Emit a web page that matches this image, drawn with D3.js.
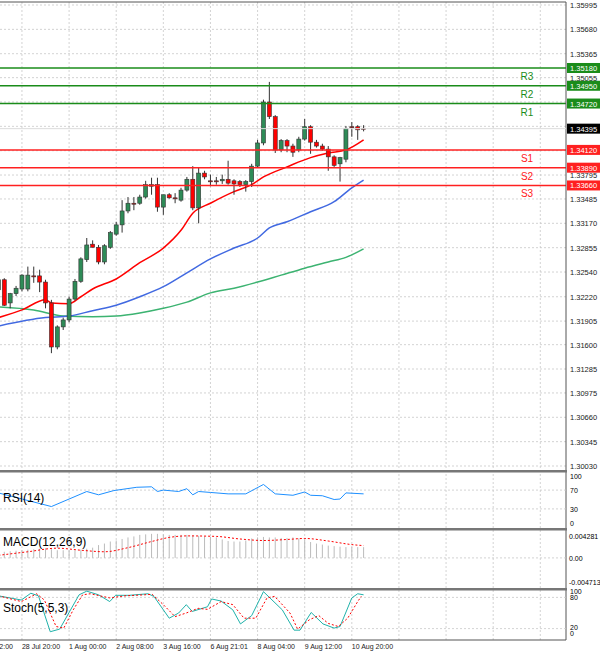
<!DOCTYPE html>
<html><head><meta charset="utf-8">
<script src="https://cdn.jsdelivr.net/npm/d3@7"></script>
<style>body{margin:0;background:#fff}text{font-family:"Liberation Sans",Arial,sans-serif}</style>
</head><body>
<script>
// OHLC, one row per candle [open, high, low, close]
var candles = [
 [1.3231,1.3248,1.3227,1.3244],[1.3244,1.3246,1.3210,1.3211],[1.3214,1.3227,1.3207,1.3226],[1.3226,1.3236,1.3223,1.3233],
 [1.3232,1.3251,1.3229,1.3250],[1.3232,1.3261,1.3229,1.3250],[1.3249,1.3261,1.3240,1.3248],[1.3249,1.3257,1.3228,1.3241],
 [1.3241,1.3244,1.3207,1.3214],[1.3214,1.3218,1.3149,1.3157],[1.3157,1.3185,1.3154,1.3183],[1.3183,1.3195,1.3179,1.3192],
 [1.3192,1.3222,1.3189,1.3219],[1.3219,1.3245,1.3217,1.3242],[1.3242,1.3273,1.3240,1.3271],[1.3270,1.3298,1.3267,1.3289],
 [1.3290,1.3295,1.3286,1.3286],[1.3286,1.3289,1.3264,1.3267],[1.3267,1.3290,1.3264,1.3288],[1.3286,1.3307,1.3284,1.3305],
 [1.3303,1.3319,1.3301,1.3315],[1.3315,1.3347,1.3305,1.3333],[1.3333,1.3351,1.3330,1.3343],[1.3343,1.3351,1.3334,1.3342],
 [1.3343,1.3354,1.3341,1.3351],[1.3351,1.3372,1.3349,1.3367],[1.3367,1.3376,1.3354,1.3365],[1.3367,1.3376,1.3332,1.3338],
 [1.3338,1.3341,1.3328,1.3354],[1.3354,1.3356,1.3349,1.3350],[1.3350,1.3356,1.3343,1.3349],[1.3347,1.3363,1.3345,1.3360],
 [1.3360,1.3377,1.3358,1.3374],[1.3374,1.3391,1.3334,1.3337],[1.3337,1.3389,1.3317,1.3382],[1.3382,1.3385,1.3374,1.3377],
 [1.3372,1.3380,1.3365,1.3371],[1.3372,1.3377,1.3367,1.3371],[1.3372,1.3380,1.3368,1.3374],[1.3374,1.3398,1.3367,1.3369],
 [1.3372,1.3374,1.3354,1.3368],[1.3371,1.3373,1.3364,1.3367],[1.3367,1.3373,1.3358,1.3371],[1.3371,1.3394,1.3364,1.3391],
 [1.3391,1.3425,1.3389,1.3421],[1.3421,1.3477,1.3418,1.3474],[1.3474,1.3500,1.3452,1.3455],[1.3455,1.3457,1.3408,1.3412],
 [1.3412,1.3426,1.3409,1.3424],[1.3424,1.3426,1.3409,1.3417],[1.3417,1.3420,1.3403,1.3409],[1.3412,1.3429,1.3409,1.3426],
 [1.3426,1.3452,1.3424,1.3442],[1.3442,1.3444,1.3407,1.3422],[1.3422,1.3425,1.3415,1.3417],[1.3417,1.3420,1.3411,1.3413],
 [1.3413,1.3417,1.3385,1.3403],[1.3403,1.3405,1.3390,1.3392],[1.3394,1.3403,1.3371,1.3402],[1.3400,1.3443,1.3396,1.3440],
 [1.3442,1.3448,1.3429,1.3441],[1.3442,1.3444,1.3425,1.3438],[1.3440,1.3444,1.3436,1.34395]
];
// moving averages [candle index, price]
var maFast = [[0,1.3195],[4,1.3205],[8,1.3218],[9,1.3214],[12,1.3213],[14,1.3222],[16,1.3232],[20,1.3245],[24,1.3266],[28,1.3285],[31,1.3308],[33,1.3330],[36,1.3343],[40,1.3358],[43,1.3367],[45,1.3377],[49,1.3390],[53,1.3402],[56,1.3408],[59,1.3412],[62,1.3425]];
var maMid = [[0,1.3184],[8,1.3195],[12,1.3197],[16,1.3204],[20,1.3211],[24,1.3222],[28,1.3235],[32,1.3253],[36,1.3271],[40,1.3285],[44,1.3298],[46,1.3311],[49,1.3319],[53,1.3332],[57,1.3345],[60,1.3363],[62,1.3373]];
var maSlow = [[0,1.3209],[6,1.3205],[11,1.3197],[16,1.3196],[20,1.3197],[24,1.3201],[28,1.3207],[32,1.3215],[36,1.3227],[40,1.3233],[44,1.3241],[48,1.3250],[52,1.3259],[56,1.3267],[59,1.3273],[62,1.3284]];
var resist = [{name:"R3",v:1.35180},{name:"R2",v:1.34950},{name:"R1",v:1.34720}];
var support = [{name:"S1",v:1.34120},{name:"S2",v:1.33890},{name:"S3",v:1.33660}];
var lastPrice = 1.34395;
var priceTicks = [1.35995,1.35680,1.35365,1.35055,1.33795,1.33485,1.33170,1.32855,1.32540,1.32220,1.31905,1.31600,1.31285,1.30975,1.30660,1.30345,1.30030];
var priceGrid = [1.35995,1.35680,1.35365,1.35055,1.34740,1.34425,1.34110,1.33795,1.33485,1.33170,1.32855,1.32540,1.32220,1.31905,1.31600,1.31285,1.30975,1.30660,1.30345,1.30030];
var rsi = [[0,64],[9,35],[15,67],[17,60],[19.6,69],[23.5,76],[26,77],[27,67],[28,70],[30.6,67],[32,73],[33,60],[34,67],[36,65],[39,62],[42,62],[45,82],[47,62],[50,59],[52,66],[53,59],[55,58],[57,50],[58,51],[59,64],[62,62]];
var macdHist = [0.0012,0.0012,0.0013,0.0014,0.0015,0.0016,0.0017,0.0018,0.0019,0.0017,0.0015,0.0015,0.0015,0.0015,0.0016,0.0018,0.0020,0.0025,0.0028,0.0032,0.0034,0.0037,0.0040,0.0042,0.0045,0.0046,0.0047,0.0047,0.0046,0.0045,0.0045,0.0045,0.0045,0.0044,0.0043,0.0042,0.0041,0.0040,0.0036,0.0033,0.0032,0.0032,0.0034,0.0038,0.0040,0.0041,0.0040,0.0040,0.0039,0.0039,0.0040,0.0038,0.0036,0.0031,0.0028,0.0026,0.0024,0.0023,0.0022,0.0021,0.0021,0.0021,0.0021];
var macdSignal = [[0,0.0005],[5,0.0012],[10,0.0019],[14,0.0015],[18,0.0012],[22,0.0020],[26,0.0032],[29,0.0040],[32,0.0043],[37,0.0042],[41,0.0037],[45,0.0034],[49,0.0036],[52,0.0038],[56,0.0033],[60,0.0026],[62,0.0024]];
var stochK = [[0,83],[3.9,75],[5.5,88],[6.8,83],[8.8,14],[10.4,19],[13.7,85],[15,92],[17,85],[18.9,72],[19.9,84],[22.2,84],[25.4,87],[26.4,82],[29,40],[30.6,50],[31.9,66],[32.9,53],[35.5,62],[36.2,77],[37.8,73],[39.8,56],[41.1,29],[43,45],[45,91],[48.2,56],[50.2,17],[51.2,17],[53.1,51],[55.1,29],[57,21],[58,24],[60,79],[61,87],[62,85]];
var stochD = [[0,83],[3.9,72],[6.5,87],[7.8,75],[9.8,24],[11.1,21],[12.7,56],[14.3,85],[15.6,87],[18.9,79],[21.5,83],[24.8,85],[26.1,86],[28,66],[30,43],[31.9,50],[33.9,59],[35.5,57],[37.8,72],[39.8,66],[41.7,40],[43.7,40],[45.6,79],[46.9,82],[49.5,50],[50.8,19],[52.8,37],[54.4,45],[56,30],[57.7,24],[59.3,40],[61,72],[61.6,82]];
var timeTicks = [{i:-4,t:"28 Jul 12:00"},{i:4,t:"28 Jul 20:00"},{i:12,t:"1 Aug 00:00"},{i:20,t:"2 Aug 08:00"},{i:28,t:"3 Aug 16:00"},{i:36,t:"6 Aug 21:01"},{i:44,t:"8 Aug 04:00"},{i:52,t:"9 Aug 12:00"},{i:60,t:"10 Aug 20:00"}];

var W = 600, H = 656, plotR = 566;
var svg = d3.select("body").append("svg").attr("width",W).attr("height",H);
var x = d3.scaleLinear().domain([0,62]).range([-1.6,363.6]);
var y = d3.scaleLinear().domain([1.30030,1.35995]).range([466,5]);

var gridCol = "#c8c8c8";
function hgrid(g, ys){
  g.selectAll(".hg").data(ys).enter().append("line")
   .attr("x1",0).attr("x2",plotR).attr("y1",function(d){return d;}).attr("y2",function(d){return d;})
   .attr("stroke",gridCol).attr("stroke-dasharray","2,2").attr("stroke-width",0.8);
}
function vgrid(y1,y2){
  svg.append("g").selectAll("line").data(timeTicks).enter().append("line")
   .attr("x1",function(d){return x(d.i);}).attr("x2",function(d){return x(d.i);})
   .attr("y1",y1).attr("y2",y2)
   .attr("stroke",gridCol).attr("stroke-dasharray","2,2").attr("stroke-width",0.8);
}
var panels = [[2,470],[472,528],[530,588],[590,640]];
panels.forEach(function(p){ vgrid(p[0],p[1]); });
// extra vertical grid to the right of the last label
svg.append("g").selectAll("line").data(d3.range(68,100,8)).enter().append("line")
  .attr("x1",function(d){return x(d);}).attr("x2",function(d){return x(d);})
  .attr("y1",2).attr("y2",640).attr("stroke",gridCol).attr("stroke-dasharray","2,2").attr("stroke-width",0.8)
  .attr("opacity",function(d){return x(d)<plotR?1:0;});

hgrid(svg.append("g"), priceGrid.map(function(v){return y(v);}));

// moving averages
var line = d3.line().x(function(d){return x(d[0]);}).y(function(d){return y(d[1]);}).curve(d3.curveMonotoneX);
svg.append("path").attr("d",line(maSlow)).attr("fill","none").attr("stroke","#3cb371").attr("stroke-width",1.5);
svg.append("path").attr("d",line(maMid)).attr("fill","none").attr("stroke","#4169e1").attr("stroke-width",1.5);
svg.append("path").attr("d",line(maFast)).attr("fill","none").attr("stroke","#ff0000").attr("stroke-width",1.5);

// candles
var cg = svg.append("g");
cg.selectAll(".wick").data(candles).enter().append("line")
  .attr("x1",function(d,i){return x(i);}).attr("x2",function(d,i){return x(i);})
  .attr("y1",function(d){return y(d[1]);}).attr("y2",function(d){return y(d[2]);})
  .attr("stroke","#333").attr("stroke-width",1);
cg.selectAll(".body").data(candles).enter().append("rect")
  .attr("x",function(d,i){return x(i)-2;}).attr("width",4)
  .attr("y",function(d){return y(Math.max(d[0],d[3]));})
  .attr("height",function(d){return Math.max(1,Math.abs(y(d[0])-y(d[3])));})
  .attr("fill",function(d){return d[3]>d[0]?"#2e8b57":(d[3]<d[0]?"#ff0000":"#333");})
  .attr("stroke","#333").attr("stroke-width",0.6);

// pivot levels
function levels(data,col,dy){
  var g = svg.append("g");
  g.selectAll("line").data(data).enter().append("line")
   .attr("x1",0).attr("x2",plotR).attr("y1",function(d){return y(d.v);}).attr("y2",function(d){return y(d.v);})
   .attr("stroke",col).attr("stroke-width",1.5);
  g.selectAll("text").data(data).enter().append("text")
   .attr("x",527).attr("y",function(d){return y(d.v)+dy;})
   .attr("fill",col).attr("font-size",10).attr("text-anchor","middle").text(function(d){return d.name;});
}
levels(resist,"#1a8c1a",12);
levels(support,"#ff2020",12);

// right axis
svg.append("line").attr("x1",plotR).attr("x2",plotR).attr("y1",2).attr("y2",640).attr("stroke","#555");
svg.append("line").attr("x1",0).attr("x2",plotR).attr("y1",2).attr("y2",2).attr("stroke","#555");
var ag = svg.append("g");
ag.selectAll("text").data(priceTicks).enter().append("text")
  .attr("x",570).attr("y",function(d){return y(d)+3;}).attr("font-size",7.5).attr("fill","#222")
  .text(function(d){return d.toFixed(5);});
function tag(v,col){
  ag.append("rect").attr("x",567).attr("y",y(v)-5).attr("width",33).attr("height",10).attr("fill",col);
  ag.append("text").attr("x",570).attr("y",y(v)+3).attr("font-size",7.5).attr("fill","#fff").text(v.toFixed(5));
}
resist.forEach(function(d){tag(d.v,"#1a8c1a");});
support.forEach(function(d){tag(d.v,"#ff2020");});
svg.append("line").attr("x1",0).attr("x2",plotR).attr("y1",y(lastPrice)).attr("y2",y(lastPrice)).attr("stroke","#ddd");
tag(lastPrice,"#000");

// panel separators
[470,528,588].forEach(function(s){
  svg.append("rect").attr("x",0).attr("y",s).attr("width",plotR+1).attr("height",2.5).attr("fill","#777");
});

// RSI
var yr = d3.scaleLinear().domain([0,100]).range([523,476]);
hgrid(svg.append("g"), [yr(70),yr(30)]);
svg.append("path").attr("d",d3.line().x(function(d){return x(d[0]);}).y(function(d){return yr(d[1]);})(rsi))
  .attr("fill","none").attr("stroke","#1e90ff").attr("stroke-width",1);
svg.append("text").attr("x",3).attr("y",502).attr("font-size",12).text("RSI(14)");
[100,70,30,0].forEach(function(v){
  svg.append("text").attr("x",570).attr("y",yr(v)+3).attr("font-size",7).text(v);
});

// MACD
var ym = d3.scaleLinear().domain([-0.004713,0.004281]).range([582,536]);
hgrid(svg.append("g"), [ym(0)]);
svg.append("g").selectAll("line").data(macdHist).enter().append("line")
  .attr("x1",function(d,i){return x(i);}).attr("x2",function(d,i){return x(i);})
  .attr("y1",ym(0)).attr("y2",function(d){return ym(d);}).attr("stroke","#bbb").attr("stroke-width",1);
svg.append("path").attr("d",d3.line().x(function(d){return x(d[0]);}).y(function(d){return ym(d[1]);}).curve(d3.curveMonotoneX)(macdSignal))
  .attr("fill","none").attr("stroke","#ff0000").attr("stroke-dasharray","2,2").attr("stroke-width",1);
svg.append("text").attr("x",3).attr("y",546).attr("font-size",12).text("MACD(12,26,9)");
[[0.004281,"0.004281"],[0,"0.00"],[-0.004713,"-0.004713"]].forEach(function(t){
  svg.append("text").attr("x",569).attr("y",ym(t[0])+3).attr("font-size",7).text(t[1]);
});

// Stochastic
var ys = d3.scaleLinear().domain([0,100]).range([639,587]);
hgrid(svg.append("g"), [ys(80),ys(20)]);
var sl = d3.line().x(function(d){return x(d[0]);}).y(function(d){return ys(d[1]);});
svg.append("path").attr("d",sl(stochK)).attr("fill","none").attr("stroke","#20b2aa").attr("stroke-width",1);
svg.append("path").attr("d",sl(stochD)).attr("fill","none").attr("stroke","#ff0000").attr("stroke-dasharray","2,2").attr("stroke-width",1);
svg.append("text").attr("x",3).attr("y",612).attr("font-size",12).text("Stoch(5,5,3)");
[[100,594],[80,600],[20,630],[0,636]].forEach(function(t){
  svg.append("text").attr("x",570).attr("y",t[1]).attr("font-size",7).text(t[0]);
});
svg.append("line").attr("x1",0).attr("x2",plotR).attr("y1",640).attr("y2",640).attr("stroke","#555");

// time axis
svg.append("g").selectAll("text").data(timeTicks).enter().append("text")
  .attr("x",function(d){return x(d.i);}).attr("y",649).attr("font-size",7).attr("fill","#222")
  .text(function(d){return d.t;});
</script>
</body></html>
